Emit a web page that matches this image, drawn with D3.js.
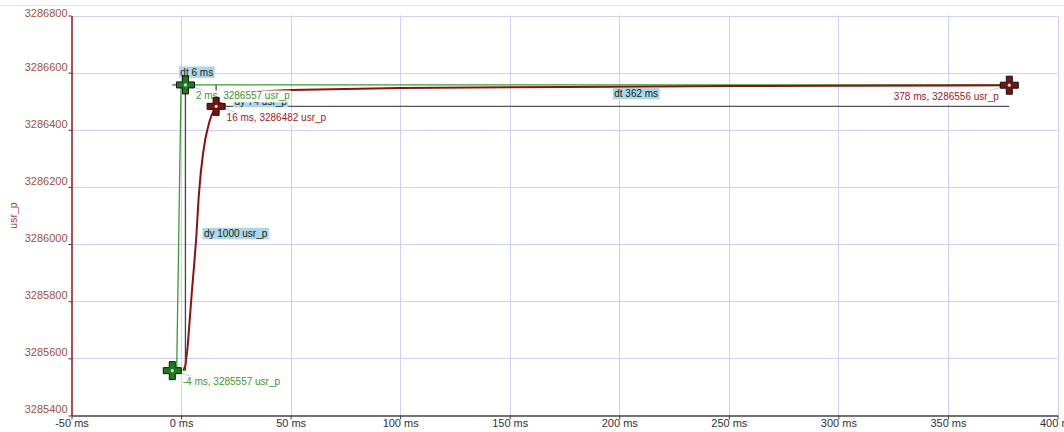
<!DOCTYPE html>
<html><head><meta charset="utf-8">
<script src="https://cdn.jsdelivr.net/npm/d3@7"></script>
<style>
html,body{margin:0;padding:0;background:#fff;}
svg{display:block;font-family:"Liberation Sans",Arial,sans-serif;}
</style></head>
<body><svg id="c" width="1064" height="432"></svg>
<script>
// ---- data ----
const xTicks = [-50, 0, 50, 100, 150, 200, 250, 300, 350, 400];
const yTicks = [3285400, 3285600, 3285800, 3286000, 3286200, 3286400, 3286600, 3286800];
const redT = [1, 2, 3, 4, 5, 6, 7, 8, 9, 10, 11, 12, 13, 14, 16, 18, 20, 25, 30, 40, 50, 75, 100, 150, 200, 250, 300, 350, 378];
const redV = [3285557, 3285575, 3285640, 3285740, 3285840, 3285930, 3286030, 3286160, 3286250, 3286315, 3286365, 3286400, 3286430, 3286452, 3286482, 3286497, 3286508, 3286522, 3286530, 3286536, 3286539, 3286543, 3286546, 3286549, 3286551, 3286553, 3286554, 3286555, 3286556];
const greenT = [-4, -2, 0, 2, 378];
const greenV = [3285557, 3285557, 3286557, 3286557, 3286557];
const cursorT = [-4, 2, 16, 378];
const cursorV = [3285557, 3286557, 3286482, 3286556];
const cursorSeries = ["green", "green", "red", "red"];
const pairA = [0, 2];      // first cursor of each pair
const pairB = [1, 3];      // second cursor of each pair
const pairCorner = [1, 2]; // cursor where the dt / dy lines meet
const unit = "usr_p";

// ---- setup ----
const svg = d3.select("#c");
const x = d3.scaleLinear().domain([-50, 400]).range([71.5, 1057.5]);
const y = d3.scaleLinear().domain([3285400, 3286800]).range([415.5, 15.5]);
const colors = {
  red: {line: "#8b1111", text: "#a32020", fill: "#761414"},
  green: {line: "#3c9a34", text: "#3a9a2a", fill: "#1f7a1f"}
};

// top border line
svg.append("line").attr("x1", 0).attr("x2", 1064).attr("y1", 5.5).attr("y2", 5.5)
  .attr("stroke", "#e4e4e4").attr("stroke-width", 1);

// grid
const grid = svg.append("g");
grid.selectAll("line.v").data(xTicks.filter(d => d > -50)).join("line")
  .attr("x1", d => Math.round(x(d)) + 0.5).attr("x2", d => Math.round(x(d)) + 0.5)
  .attr("y1", y(3286800)).attr("y2", y(3285400))
  .attr("stroke", "#cfcff7").attr("stroke-width", 1);
grid.selectAll("line.h").data(yTicks.filter(d => d > 3285400)).join("line")
  .attr("x1", x(-50)).attr("x2", x(400))
  .attr("y1", d => Math.round(y(d)) + 0.5).attr("y2", d => Math.round(y(d)) + 0.5)
  .attr("stroke", "#cfcff7").attr("stroke-width", 1);

// axes
const xa = svg.append("g").attr("transform", `translate(0,${y(3285400)})`)
  .call(d3.axisBottom(x).tickValues(xTicks).tickFormat(d => d + " ms").tickSize(4).tickSizeOuter(0));
xa.select(".domain").attr("stroke", "#444").attr("stroke-width", 1.5);
xa.selectAll(".tick line").attr("stroke", "#444");
xa.selectAll("text").attr("y", 3.5).attr("fill", "#333").style("font-size", "11px")
  .style("font-family", "'Liberation Sans',Arial,sans-serif");

const ya = svg.append("g").attr("transform", `translate(${x(-50)},0)`)
  .call(d3.axisLeft(y).tickValues(yTicks).tickFormat(d3.format("d")).tickSize(3).tickPadding(1).tickSizeOuter(0));
ya.select(".domain").attr("stroke", "#8b1a1a").attr("stroke-width", 1.5);
ya.selectAll(".tick line").attr("stroke", "#8b1a1a");
ya.selectAll("text").attr("dy", d => d === yTicks[yTicks.length - 1] ? "1px" : "-2.6px")
  .attr("fill", "#a5503a").style("font-size", "11px")
  .style("font-family", "'Liberation Sans',Arial,sans-serif");

svg.append("text").attr("transform", `translate(17,${(y(3285400) + y(3286800)) / 2}) rotate(-90)`)
  .attr("text-anchor", "middle").attr("fill", "#a5403a").style("font-size", "10.5px").text(unit);

// series
const lineGen = d3.line().x(d => x(d[0])).y(d => y(d[1]));
svg.append("path").datum(greenT.map((t, i) => [t, greenV[i]])).attr("d", lineGen)
  .attr("fill", "none").attr("stroke", colors.green.line).attr("stroke-width", 1.3);
svg.append("path").datum(redT.map((t, i) => [t, redV[i]])).attr("d", lineGen)
  .attr("fill", "none").attr("stroke", colors.red.line).attr("stroke-width", 2);

// measurement lines & labels
const meas = svg.append("g");
const fmtT = d => d + " ms";
pairA.forEach((a, k) => {
  const b = pairB[k], c = pairCorner[k], o = (c === a ? b : a);
  const cx = x(cursorT[c]), cy = y(cursorV[c]);
  const ox = x(cursorT[o]), oy = y(cursorV[o]);
  meas.append("line").attr("x1", ox).attr("x2", cx).attr("y1", cy).attr("y2", cy)
    .attr("stroke", "#555").attr("stroke-width", 1.3);
  meas.append("line").attr("x1", cx).attr("x2", cx).attr("y1", cy).attr("y2", oy)
    .attr("stroke", "#444").attr("stroke-width", 1.3);
});
pairA.forEach((a, k) => {
  const b = pairB[k], c = pairCorner[k], o = (c === a ? b : a);
  const cx = x(cursorT[c]), cy = y(cursorV[c]);
  const oy = y(cursorV[o]);
  const dt = Math.abs(cursorT[b] - cursorT[a]);
  const dy = Math.abs(cursorV[b] - cursorV[a]);
  const midX = (x(cursorT[a]) + x(cursorT[b])) / 2;
  const midY = (cy + oy) / 2;
  const boxes = [
    {text: "dt " + dt + " ms", x: midX, top: cy - 18.5},
    {text: "dy " + dy + " " + unit, x: cx + 17, top: midY}
  ];
  boxes.forEach(bx => {
    const g = meas.append("g");
    const rect = g.append("rect").attr("fill", "#acd8e6");
    const t = g.append("text").attr("x", bx.x + 1.5).attr("y", bx.top + 9.2)
      .attr("fill", "#1a1a1a").style("font-size", "10px").text(bx.text);
    const w = t.node().getComputedTextLength();
    rect.attr("x", bx.x).attr("y", bx.top).attr("width", w + 3).attr("height", 11.5);
  });
});

// cursor labels
const labs = svg.append("g");
cursorT.forEach((t, i) => {
  const cx = x(t), cy = y(cursorV[i]);
  const col = colors[cursorSeries[i]];
  const g = labs.append("g");
  const lead = g.append("line").attr("stroke", "#a9d9ec").attr("stroke-width", 1);
  const rect = g.append("rect").attr("fill", "#fff").attr("fill-opacity", 0.95);
  const tx = g.append("text").attr("y", cy + 14.5).attr("fill", col.text)
    .style("font-size", "10px").text(fmtT(t) + ", " + cursorV[i] + " " + unit);
  const w = tx.node().getComputedTextLength();
  let lx = cx + 10.5;
  if (lx + w > x(400)) lx = cx - 10.5 - w;
  tx.attr("x", lx);
  rect.attr("x", lx - 1).attr("y", cy + 5.5).attr("width", w + 2).attr("height", 12);
  const ex = lx < cx ? lx + w - 10 : lx + 8;
  lead.attr("x1", cx).attr("y1", cy).attr("x2", ex).attr("y2", cy + 5.5);
});

// cursors
const cur = svg.append("g");
const arm = 9, half = 3;
const plusPath = `M${-half},${-arm}H${half}V${-half}H${arm}V${half}H${half}V${arm}H${-half}V${half}H${-arm}V${-half}H${-half}Z`;
cursorT.forEach((t, i) => {
  const col = colors[cursorSeries[i]];
  const g = cur.append("g").attr("transform", `translate(${x(t)},${y(cursorV[i])})`);
  g.append("path").attr("d", plusPath).attr("fill", col.fill).attr("stroke", "#111").attr("stroke-width", 1);
  g.append("circle").attr("r", 1.6).attr("fill", "#d8d8d8");
});
</script>
</body></html>
